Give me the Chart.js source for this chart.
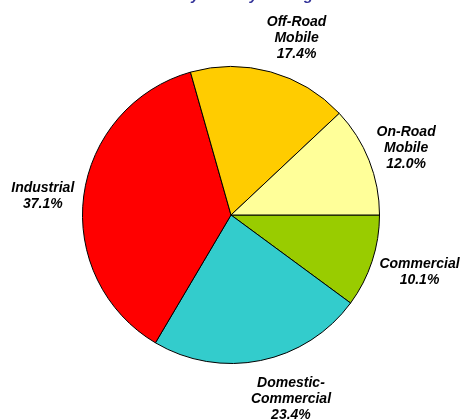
<!DOCTYPE html>
<html>
<head>
<meta charset="utf-8">
<script src="https://cdn.jsdelivr.net/npm/chart.js@4.4.1/dist/chart.umd.min.js"></script>
<style>
    html, body { margin: 0; padding: 0; background: #ffffff; }
    #wrap { position: relative; width: 462px; height: 419px; }
</style>
</head>
<body>
<div id="wrap"><canvas id="chart-pie" width="462" height="419"></canvas></div>
<script>
// Slices in clockwise order, starting at 3 o'clock
const categories = ['Commercial', 'Domestic-\nCommercial', 'Industrial', 'Off-Road\nMobile', 'On-Road\nMobile'];
const shares = [10.1, 23.4, 37.1, 17.4, 12.0];
const sliceColors = ['#99cc00', '#33cccc', '#ff0000', '#ffcc00', '#ffff99'];
const titleText = 'Emissions by Activity Setting';

const labelFont = 'bold italic 14px "Liberation Sans", Arial, sans-serif';

// Outside labels placed along each slice's mid angle (small hand nudges like Excel's layout)
const labelNudge = [[-3, -6], [22, -2], [2, 6], [15, 6], [-6, 5]];

const sliceLabels = {
    id: 'sliceLabels',
    afterDatasetsDraw(chart) {
        const ctx = chart.ctx;
        const meta = chart.getDatasetMeta(0);
        ctx.save();
        ctx.font = labelFont;
        ctx.fillStyle = '#000000';
        ctx.textAlign = 'center';
        ctx.textBaseline = 'middle';
        meta.data.forEach((arc, i) => {
            const p = arc.getProps(['x', 'y', 'startAngle', 'endAngle', 'outerRadius'], true);
            const mid = (p.startAngle + p.endAngle) / 2;
            const lines = categories[i].split('\n').concat(shares[i].toFixed(1) + '%');
            const w = Math.max(...lines.map(l => ctx.measureText(l).width));
            const lh = 16;
            const h = lines.length * lh;
            const cos = Math.cos(mid), sin = Math.sin(mid);
            const d = p.outerRadius + 10 + Math.abs(cos) * w / 2 + Math.abs(sin) * h / 2;
            const cx = p.x + cos * d + labelNudge[i][0];
            const cy = p.y + sin * d + labelNudge[i][1];
            lines.forEach((l, k) => {
                ctx.fillText(l, cx, cy - h / 2 + lh / 2 + k * lh);
            });
        });
        ctx.restore();
    }
};

// Title sits mostly above the visible area, only descenders show
const clippedTitle = {
    id: 'clippedTitle',
    afterDraw(chart) {
        const ctx = chart.ctx;
        ctx.save();
        ctx.font = 'bold italic 15px "Liberation Sans", Arial, sans-serif';
        ctx.fillStyle = '#333399';
        ctx.textAlign = 'left';
        ctx.textBaseline = 'alphabetic';
        ctx.fillText(titleText, 103, -0.5);
        ctx.restore();
    }
};

new Chart(document.getElementById('chart-pie'), {
    type: 'pie',
    data: {
        labels: categories,
        datasets: [{
            data: shares,
            backgroundColor: sliceColors,
            borderColor: '#000000',
            borderWidth: 1
        }]
    },
    options: {
        responsive: false,
        animation: false,
        rotation: 90,
        layout: { padding: { top: 66, bottom: 55, left: 82, right: 82 } },
        plugins: {
            legend: { display: false },
            tooltip: { enabled: false },
            title: { display: false }
        }
    },
    plugins: [sliceLabels, clippedTitle]
});
</script>
</body>
</html>
